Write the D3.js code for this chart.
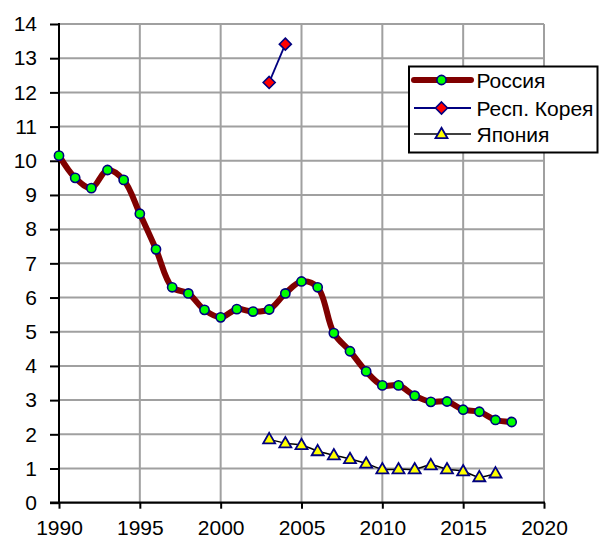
<!DOCTYPE html>
<html><head><meta charset="utf-8">
<script src="https://cdn.jsdelivr.net/npm/d3@7"></script>
<style>body{margin:0;background:#fff}svg{display:block}text{font-family:"Liberation Sans",Arial,sans-serif}</style>
</head><body><svg id="c" width="599" height="540"></svg>
<script>
const russiaYears = d3.range(1990, 2019);
const russiaValues = [10.15,9.5,9.2,9.73,9.44,8.45,7.41,6.3,6.12,5.64,5.42,5.66,5.59,5.65,6.12,6.47,6.3,4.96,4.43,3.84,3.43,3.43,3.13,2.95,2.96,2.72,2.66,2.42,2.36];
const koreaYears = [2003,2004];
const koreaValues = [12.29,13.41];
const japanYears = d3.range(2003, 2018);
const japanValues = [1.86,1.74,1.69,1.51,1.39,1.28,1.15,0.98,0.98,0.98,1.1,0.98,0.92,0.75,0.86];
const xTicks = [1990,1995,2000,2005,2010,2015,2020];
const yTicks = d3.range(0, 15);
const seriesNames = ["Россия","Респ. Корея","Япония"];

const svg = d3.select("#c");
const m = {l:59, r:55, t:24, b:37.3};
const W = 599, H = 540;
const x = d3.scaleLinear().domain([1990,2020]).range([m.l, W-m.r]);
const y = d3.scaleLinear().domain([0,14]).range([H-m.b, m.t]);

const grid = svg.append("g");
grid.selectAll(".hg").data(yTicks.filter(d=>d>0)).join("line")
  .attr("x1", x(1990)).attr("x2", x(2020)).attr("y1", d=>y(d)).attr("y2", d=>y(d))
  .attr("stroke","#a0a0a0").attr("stroke-width",2);
grid.selectAll(".vg").data(xTicks.filter(d=>d>1990)).join("line")
  .attr("x1", d=>x(d)).attr("x2", d=>x(d)).attr("y1", y(0)).attr("y2", y(14))
  .attr("stroke","#a0a0a0").attr("stroke-width",2);

const yAxis = svg.append("g").attr("transform",`translate(${m.l},0)`)
  .call(d3.axisLeft(y).tickValues(yTicks).tickSize(9).tickPadding(13).tickFormat(d3.format("d")));
const xAxis = svg.append("g").attr("transform",`translate(0,${y(0)})`)
  .call(d3.axisBottom(x).tickValues(xTicks).tickSize(6).tickPadding(11).tickFormat(d3.format("d")));
[yAxis,xAxis].forEach(a=>{
  a.select(".domain").remove();
  a.selectAll("line").attr("stroke","#000").attr("stroke-width",2);
  a.selectAll("text").attr("font-size",21).attr("fill","#000");
});
svg.append("line").attr("x1",x(1990)).attr("x2",x(1990)).attr("y1",y(14)-1).attr("y2",y(0)+1).attr("stroke","#000").attr("stroke-width",2);
svg.append("line").attr("x1",x(1990)-9).attr("x2",x(2020)+1).attr("y1",y(0)).attr("y2",y(0)).attr("stroke","#000").attr("stroke-width",2.2);

const smooth = d3.line().x(d=>x(d[0])).y(d=>y(d[1])).curve(d3.curveCatmullRom.alpha(0.5));
const straight = d3.line().x(d=>x(d[0])).y(d=>y(d[1]));

const rus = russiaYears.map((d,i)=>[d,russiaValues[i]]);
const kor = koreaYears.map((d,i)=>[d,koreaValues[i]]);
const jap = japanYears.map((d,i)=>[d,japanValues[i]]);

svg.append("path").datum(jap).attr("d",smooth).attr("fill","none").attr("stroke","#000").attr("stroke-width",1.5);
svg.append("path").datum(kor).attr("d",straight).attr("fill","none").attr("stroke","#000080").attr("stroke-width",1.8);
svg.append("path").datum(rus).attr("d",smooth).attr("fill","none").attr("stroke","#800000").attr("stroke-width",6).attr("stroke-linejoin","round");

const tri = "M0,-6.2L6,4.2L-6,4.2Z";
const dia = "M0,-6L6,0L0,6L-6,0Z";
svg.selectAll(".jm").data(jap).join("path").attr("d",tri)
  .attr("transform",d=>`translate(${x(d[0])},${y(d[1])})`)
  .attr("fill","#ffff00").attr("stroke","#000080").attr("stroke-width",1.8);
svg.selectAll(".km").data(kor).join("path").attr("d",dia)
  .attr("transform",d=>`translate(${x(d[0])},${y(d[1])})`)
  .attr("fill","#ff0000").attr("stroke","#000080").attr("stroke-width",1.6);
svg.selectAll(".rm").data(rus).join("circle")
  .attr("cx",d=>x(d[0])).attr("cy",d=>y(d[1])).attr("r",4.6)
  .attr("fill","#00ff00").attr("stroke","#000080").attr("stroke-width",1.6);

// legend
const lg = svg.append("g");
lg.append("rect").attr("x",409).attr("y",66.5).attr("width",188.5).attr("height",86)
  .attr("fill","#fff").attr("stroke","#000").attr("stroke-width",2);
const rows = [80,108,134];
const lx1 = 414, lx2 = 471, mx = 441.5;
lg.append("line").attr("x1",lx1).attr("x2",lx2).attr("y1",rows[0]).attr("y2",rows[0]).attr("stroke","#800000").attr("stroke-width",6).attr("stroke-linecap","round");
lg.append("circle").attr("cx",mx).attr("cy",rows[0]).attr("r",4.6).attr("fill","#00ff00").attr("stroke","#000080").attr("stroke-width",1.6);
lg.append("line").attr("x1",lx1).attr("x2",lx2).attr("y1",rows[1]).attr("y2",rows[1]).attr("stroke","#000080").attr("stroke-width",1.8);
lg.append("path").attr("d",dia).attr("transform",`translate(${mx},${rows[1]})`).attr("fill","#ff0000").attr("stroke","#000080").attr("stroke-width",1.6);
lg.append("line").attr("x1",lx1).attr("x2",lx2).attr("y1",rows[2]).attr("y2",rows[2]).attr("stroke","#000").attr("stroke-width",1.5);
lg.append("path").attr("d",tri).attr("transform",`translate(${mx},${rows[2]})`).attr("fill","#ffff00").attr("stroke","#000080").attr("stroke-width",1.8);
lg.selectAll(".lt").data(seriesNames).join("text")
  .attr("x",476.5).attr("y",(d,i)=>rows[i]).attr("dy","0.36em").attr("font-size",21).attr("fill","#000").text(d=>d);
</script></body></html>
